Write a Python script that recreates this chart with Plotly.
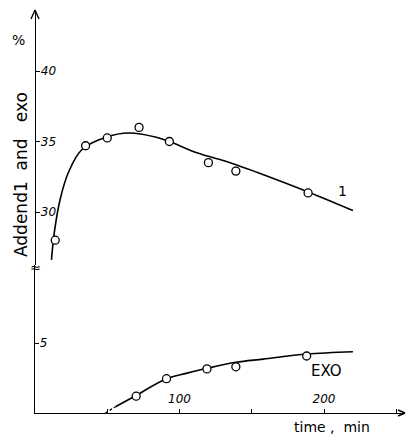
import plotly.graph_objects as go

# --- data ---
# curve 1 (Addend 1), measured points
t1 = [14, 35, 50, 72, 93, 120, 139, 189]
y1 = [28.0, 34.7, 35.25, 36.0, 35.0, 33.5, 32.9, 31.35]
# curve 1, smooth hand-drawn line
t1_line = [11.4, 13.3, 17.3, 23.1, 32.2, 49, 65, 84, 93, 112, 135, 154, 189.5, 220]
y1_line = [26.6, 28.5, 30.85, 32.8, 34.4, 35.3, 35.6, 35.3, 35.0, 34.2, 33.5, 32.8, 31.4, 30.1]

# EXO, measured points
t2 = [70, 91, 119, 139, 188]
y2 = [1.2, 2.45, 3.15, 3.3, 4.07]
# EXO, smooth line (solid part) and dashed start
t2_line = [55.7, 69, 91, 104.7, 119, 139, 158, 188, 220]
y2_line = [0.45, 1.2, 2.45, 2.83, 3.19, 3.62, 3.85, 4.21, 4.38]
t2_dash = [48.7, 55.7]
y2_dash = [0.0, 0.45]

xticks = [50, 100, 150, 200, 250]
xticktext = ["", "100", "", "200", ""]
upper_ticks = [30, 35, 40]
lower_ticks = [5]

W, H = 407, 437
x0_px, x1_px = 35, 405
xbot_px, brk_px, ytop_px = 413, 265, 10

FONT = "DejaVu Sans"


def px(xp):
    return xp / W


def py(yp):
    return 1 - yp / H


fig = go.Figure()

marker = dict(symbol="circle", size=8, color="white", line=dict(color="black", width=1.3))

# upper panel (y2 axis)
fig.add_trace(go.Scatter(x=t1_line, y=y1_line, mode="lines",
                         line=dict(color="black", width=1.6, shape="spline", smoothing=1.0),
                         xaxis="x", yaxis="y2", hoverinfo="skip"))
fig.add_trace(go.Scatter(x=t1, y=y1, mode="markers", marker=marker, xaxis="x", yaxis="y2"))
# lower panel (y axis)
fig.add_trace(go.Scatter(x=t2_dash, y=y2_dash, mode="lines",
                         line=dict(color="black", width=1.3, dash="3px,2px"),
                         xaxis="x", yaxis="y", hoverinfo="skip"))
fig.add_trace(go.Scatter(x=t2_line, y=y2_line, mode="lines",
                         line=dict(color="black", width=1.6, shape="spline", smoothing=1.0),
                         xaxis="x", yaxis="y", hoverinfo="skip"))
fig.add_trace(go.Scatter(x=t2, y=y2, mode="markers", marker=marker, xaxis="x", yaxis="y"))

lower_top = (xbot_px - brk_px) / 14.0
upper_bot = 30 - (brk_px - 212) / 14.1
upper_top = 30 + (212 - ytop_px) / 14.1

tickfont = dict(family=FONT, size=12, color="black", style="italic")
common = dict(showgrid=False, zeroline=False, showline=True, linecolor="black", linewidth=1.4,
              ticks="inside", ticklen=4, tickcolor="black", tickfont=tickfont,
              ticklabelposition="inside", automargin=False, fixedrange=True)

fig.update_layout(
    template="none",
    width=W, height=H,
    margin=dict(l=0, r=0, t=0, b=0, autoexpand=False),
    paper_bgcolor="white", plot_bgcolor="white",
    showlegend=False,
    xaxis=dict(domain=[px(x0_px), px(x1_px)], range=[0, (x1_px - x0_px) / 1.445],
               tickvals=xticks, ticktext=xticktext, anchor="y", ticklabelstandoff=3, **common),
    yaxis=dict(domain=[py(xbot_px), py(brk_px)], range=[0, lower_top],
               tickvals=lower_ticks, anchor="x", **common),
    yaxis2=dict(domain=[py(brk_px), py(ytop_px)], range=[upper_bot, upper_top],
                tickvals=upper_ticks, anchor="free", position=px(x0_px), **common),
)

ann = []
# curve labels
ann.append(dict(x=213, y=31.5, xref="x", yref="y2", text="1", showarrow=False,
                xanchor="center", yanchor="middle",
                font=dict(family=FONT, size=14, color="black")))
ann.append(dict(x=202, y=3.0, xref="x", yref="y", text="EXO", showarrow=False,
                xanchor="center", yanchor="middle",
                font=dict(family=FONT, size=15, color="black")))
# axis titles
ann.append(dict(x=px(21), y=py(175), xref="paper", yref="paper",
                text="Addend1\u00a0\u00a0and\u00a0\u00a0\u00a0exo", textangle=-90, showarrow=False,
                xanchor="center", yanchor="middle",
                font=dict(family=FONT, size=17, color="black")))
ann.append(dict(x=px(18), y=py(40), xref="paper", yref="paper", text="%", showarrow=False,
                xanchor="center", yanchor="middle",
                font=dict(family=FONT, size=14, color="black")))
ann.append(dict(x=px(332), y=py(427), xref="paper", yref="paper", text="time\u00a0,\u00a0\u00a0min",
                showarrow=False, xanchor="center", yanchor="middle",
                font=dict(family=FONT, size=14, color="black")))
# axis break mark
ann.append(dict(x=px(x0_px), y=py(brk_px + 2), xref="paper", yref="paper", text="≈", showarrow=False,
                xanchor="center", yanchor="middle",
                font=dict(family=FONT, size=13, color="black")))
fig.update_layout(annotations=ann)

# open arrow heads at the end of the axes
def seg(xa, ya, xb, yb):
    return dict(type="line", xref="paper", yref="paper", x0=px(xa), y0=py(ya), x1=px(xb), y1=py(yb),
                line=dict(color="black", width=1.4))

shapes = [
    seg(x0_px, ytop_px, x0_px - 4, ytop_px + 9),
    seg(x0_px, ytop_px, x0_px + 4, ytop_px + 9),
    seg(x1_px, xbot_px, x1_px - 7, xbot_px - 3),
    seg(x1_px, xbot_px, x1_px - 7, xbot_px + 3),
]
fig.update_layout(shapes=shapes)

fig.write_html("out.html", config={"displayModeBar": False},
               post_script="document.body.style.margin='0px';")
